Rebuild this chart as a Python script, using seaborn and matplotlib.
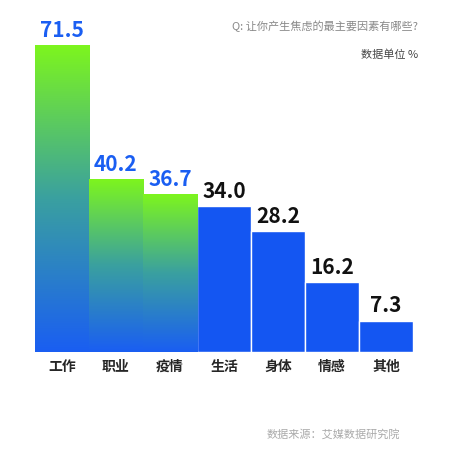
import seaborn as sns
import matplotlib.pyplot as plt
import numpy as np
import pandas as pd
from matplotlib.colors import LinearSegmentedColormap

categories = ['工作', '职业', '疫情', '生活', '身体', '情感', '其他']
values = [71.5, 40.2, 36.7, 34.0, 28.2, 16.2, 7.3]

sns.set_style('white')
plt.rcParams['font.family'] = ['Noto Sans CJK SC', 'DejaVu Sans']

df = pd.DataFrame({'cat': categories, 'val': values})
fig = plt.figure(figsize=(4.52, 4.66), dpi=100)
ax = fig.add_axes([0.077, 0.245, 0.837, 0.736])
sns.barplot(data=df, x='cat', y='val', color='#1456f2', saturation=1,
            width=1.0, ax=ax)
ax.set_ylim(0, 80)
ax.set_xlim(-0.5, 6.5)

# green-to-blue gradient on the first three bars
cmap = LinearSegmentedColormap.from_list('gb', ['#1a5ef2', '#3aa0a0', '#7df51e'])
grad = np.linspace(0, 1, 256).reshape(-1, 1)
for i, patch in enumerate(ax.patches[:3]):
    patch.set_facecolor('none')
    x0 = patch.get_x()
    w = patch.get_width()
    h = patch.get_height()
    im = ax.imshow(grad, cmap=cmap, origin='lower', aspect='auto',
                   extent=[x0, x0 + w, 0, h], zorder=patch.get_zorder())
    im.set_clip_path(patch)
ax.set_aspect('auto')

for i, v in enumerate(values):
    ax.text(i, v + 1.0, f'{v:.1f}', ha='center', va='bottom', fontsize=15,
            fontweight='bold', color='#1a5ef2' if i < 3 else '#111111')

ax.set_xlabel('')
ax.set_ylabel('')
ax.set_yticks([])
ax.tick_params(axis='x', length=0, labelsize=10, pad=6)
for lbl in ax.get_xticklabels():
    lbl.set_fontweight('bold')
sns.despine(ax=ax, left=True, bottom=True)

fig.text(0.925, 0.935, 'Q: 让你产生焦虑的最主要因素有哪些?', ha='right',
         fontsize=8, color='#888888')
fig.text(0.925, 0.875, '数据单位 %', ha='right', fontsize=8, color='#444444')
fig.text(0.885, 0.06, '数据来源：艾媒数据研究院', ha='right', fontsize=8,
         color='#aaaaaa')

fig.savefig('out.png', dpi=100)
